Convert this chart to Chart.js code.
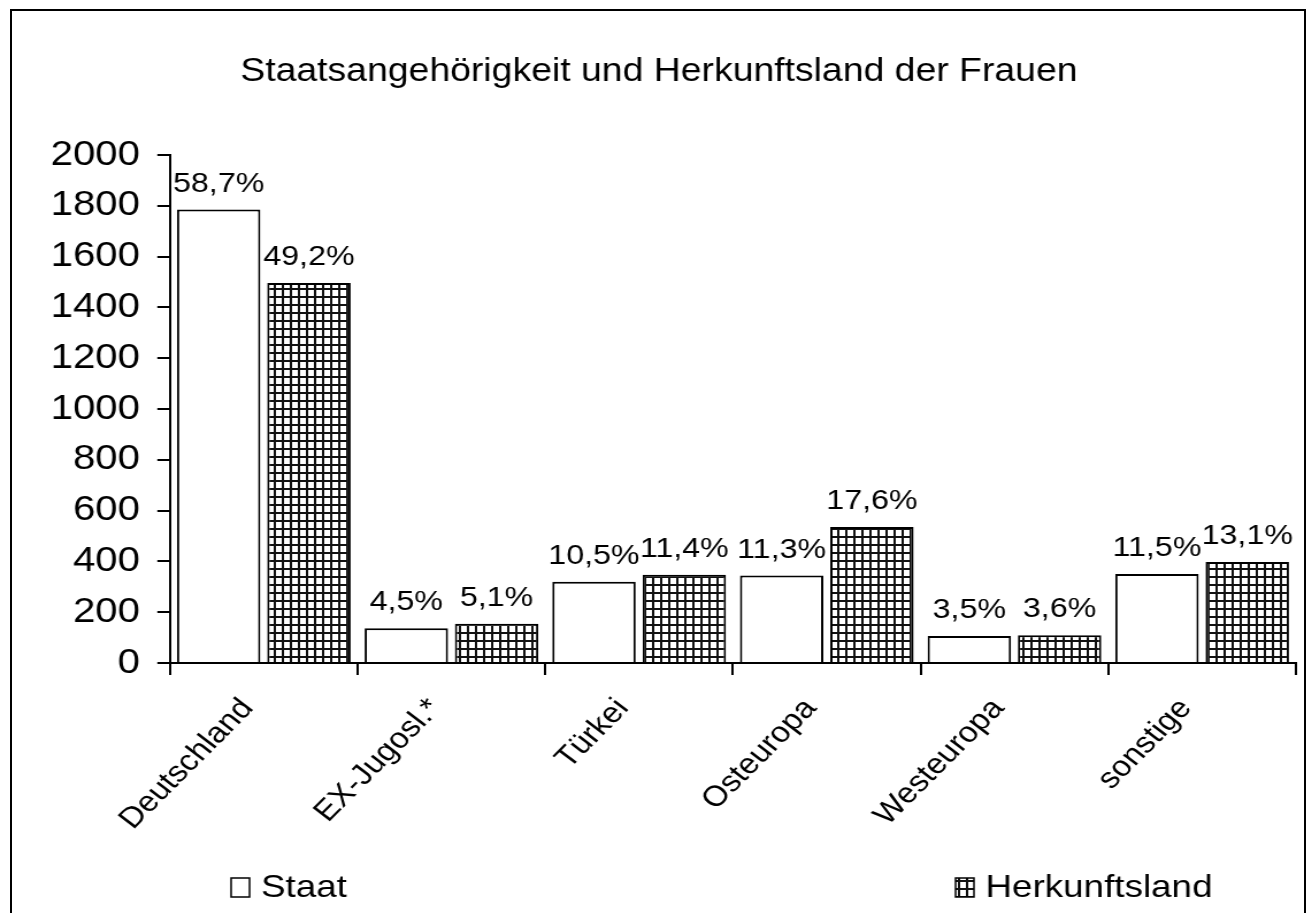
<!DOCTYPE html>
<html>
<head>
<meta charset="utf-8">
<script src="https://cdn.jsdelivr.net/npm/chart.js@4.4.0/dist/chart.umd.min.js"></script>
<style>
  html, body { margin: 0; padding: 0; background: #fff; overflow: hidden; }
  #page { position: relative; width: 1312px; height: 913px; overflow: hidden; }
  #frame { position: absolute; left: 10px; top: 9px; width: 1296px; height: 920px; box-sizing: border-box; border: 2px solid #000; border-bottom: none; }
  #stretch { position: absolute; left: 0; top: 0; width: 1141px; height: 913px; transform: scaleX(1.1499); transform-origin: 0 0; }
</style>
</head>
<body>
<div id="page">
  <div id="frame"></div>
  <div id="stretch">
    <canvas id="chart" width="1141" height="913"></canvas>
  </div>
</div>
<script>
var categories = ['Deutschland', 'EX-Jugosl.*', 'Türkei', 'Osteuropa', 'Westeuropa', 'sonstige'];
var staatValues = [1785, 137, 320, 344, 106, 350];
var herkunftValues = [1496, 155, 347, 535, 109, 398];
var staatPercent = ['58,7%', '4,5%', '10,5%', '11,3%', '3,5%', '11,5%'];
var herkunftPercent = ['49,2%', '5,1%', '11,4%', '17,6%', '3,6%', '13,1%'];
var yTicks = [0, 200, 400, 600, 800, 1000, 1200, 1400, 1600, 1800, 2000];
var seriesNames = ['Staat', 'Herkunftsland'];

var FONT = "'Liberation Sans', Arial, sans-serif";
Chart.defaults.font.family = FONT;
Chart.defaults.color = '#000';

function gridPattern() {
    var c = document.createElement('canvas');
    c.width = 7;
    c.height = 8;
    var g = c.getContext('2d');
    g.fillStyle = '#fff';
    g.fillRect(0, 0, 7, 8);
    g.fillStyle = '#111';
    g.fillRect(0, 0, 7, 2);
    g.fillRect(0, 0, 2, 8);
    return g.createPattern(c, 'repeat');
}
var hatch = gridPattern();
var percentLabels = [staatPercent, herkunftPercent];

// percentages above the bars
var barLabels = {
    id: 'barLabels',
    afterDatasetsDraw: function (chart) {
        var ctx = chart.ctx;
        ctx.save();
        ctx.font = '28px ' + FONT;
        ctx.fillStyle = '#000';
        ctx.textAlign = 'center';
        ctx.textBaseline = 'alphabetic';
        chart.data.datasets.forEach(function (ds, i) {
            chart.getDatasetMeta(i).data.forEach(function (bar, j) {
                ctx.fillText(percentLabels[i][j], bar.x, bar.y - 18);
            });
        });
        ctx.restore();
    }
};

// legend spread along the bottom like the original
var bottomLegend = {
    id: 'bottomLegend',
    afterDraw: function (chart) {
        var ctx = chart.ctx;
        var items = [
            { x: 201, fill: '#fff' },
            { x: 831, fill: hatch }
        ];
        ctx.save();
        ctx.font = '32px ' + FONT;
        ctx.textBaseline = 'middle';
        ctx.textAlign = 'left';
        items.forEach(function (it, i) {
            ctx.fillStyle = it.fill;
            ctx.fillRect(it.x, 878, 16, 19);
            ctx.strokeStyle = '#000';
            ctx.lineWidth = 1.5;
            ctx.strokeRect(it.x, 878, 16, 19);
            ctx.fillStyle = '#000';
            ctx.fillText(seriesNames[i], it.x + 26, 888);
        });
        ctx.restore();
    }
};

var ctx = document.getElementById('chart').getContext('2d');
new Chart(ctx, {
    type: 'bar',
    data: {
        labels: categories,
        datasets: [{
            label: seriesNames[0],
            data: staatValues,
            backgroundColor: '#fff',
            borderColor: '#000',
            borderWidth: 2
        }, {
            label: seriesNames[1],
            data: herkunftValues,
            backgroundColor: hatch,
            borderColor: '#000',
            borderWidth: 2
        }]
    },
    options: {
        responsive: false,
        animation: false,
        devicePixelRatio: 1,
        categoryPercentage: 0.962,
        barPercentage: 0.924,
        layout: { padding: { left: 19, right: 14, top: 0, bottom: 0 } },
        plugins: {
            legend: { display: false },
            tooltip: { enabled: false },
            title: {
                display: true,
                text: 'Staatsangehörigkeit und Herkunftsland der Frauen',
                color: '#000',
                font: { size: 32.5, weight: 'normal' },
                padding: { top: 52.5, bottom: 63.5 }
            }
        },
        scales: {
            x: {
                grid: { offset: true, drawOnChartArea: false, tickLength: 12, color: '#000', lineWidth: 2 },
                border: { display: true, color: '#000', width: 2 },
                ticks: {
                    color: '#000',
                    font: { size: 29 },
                    minRotation: 49,
                    maxRotation: 49,
                    autoSkip: false,
                    labelOffset: -14,
                    padding: 17
                },
                afterFit: function (scale) { scale.height = 250; }
            },
            y: {
                min: 0,
                max: 2000,
                afterBuildTicks: function (scale) {
                    scale.ticks = yTicks.map(function (v) { return { value: v }; });
                },
                grid: { drawOnChartArea: false, tickLength: 11, color: '#000', lineWidth: 2 },
                border: { display: true, color: '#000', width: 2 },
                ticks: {
                    color: '#000',
                    font: { size: 35 },
                    padding: 15,
                    callback: function (value) { return String(value); }
                },
                afterFit: function (scale) { scale.width = 128.8; }
            }
        }
    },
    plugins: [barLabels, bottomLegend]
});
</script>
</body>
</html>
